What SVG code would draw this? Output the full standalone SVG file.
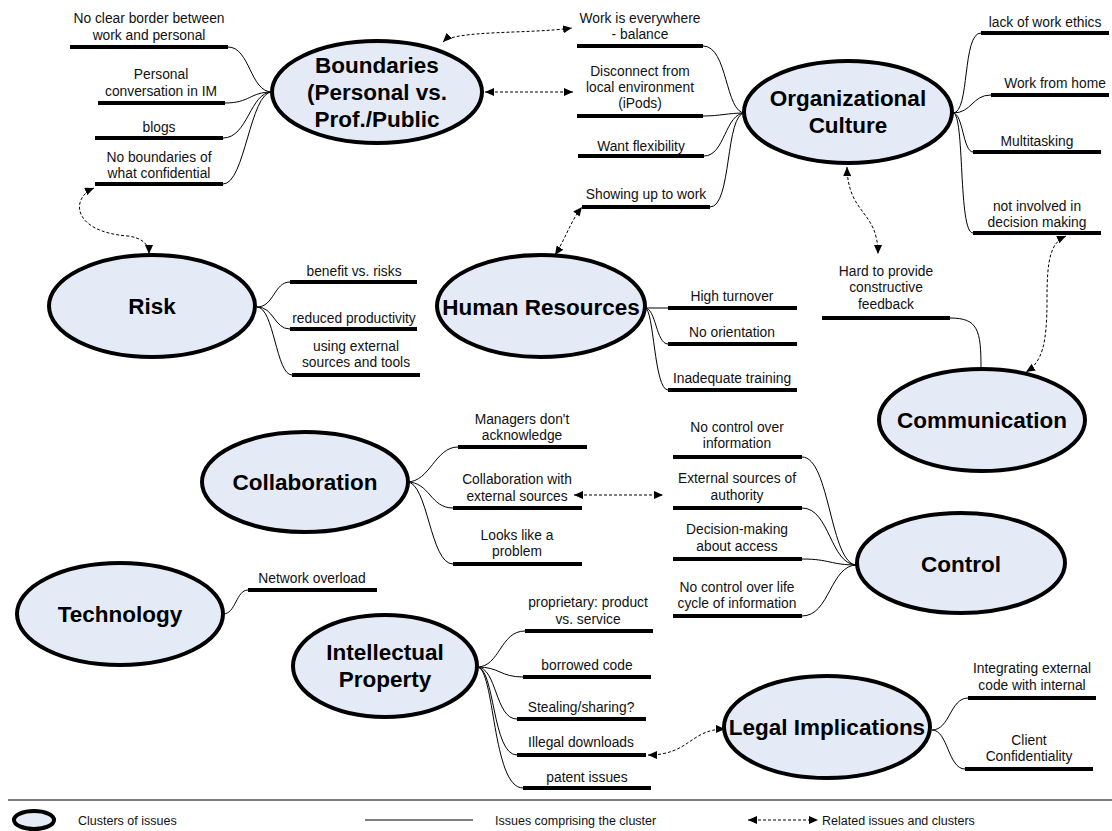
<svg xmlns="http://www.w3.org/2000/svg" width="1112" height="831" viewBox="0 0 1112 831">
<defs>
<marker id="ah" markerUnits="userSpaceOnUse" markerWidth="10" markerHeight="8" refX="9" refY="4" orient="auto-start-reverse" viewBox="0 0 10 8">
<path d="M0 0 L9 4 L0 8 Z" fill="#000"/>
</marker>
<style>
.cl{fill:#e4ebf7;stroke:#000;stroke-width:4}
.ct{font-family:"Liberation Sans",Arial,sans-serif;font-weight:bold;font-size:22.5px;fill:#000;text-anchor:middle}
.it{font-family:"Liberation Sans",Arial,sans-serif;font-size:13.8px;fill:#111;text-anchor:middle}
.ul{stroke:#000;stroke-width:4;fill:none}
.cn{stroke:#000;stroke-width:1;fill:none}
.rel{stroke:#000;stroke-width:1;fill:none;stroke-dasharray:3 2;marker-start:url(#ah);marker-end:url(#ah)}
.lg{font-family:"Liberation Sans",Arial,sans-serif;font-size:12.5px;fill:#111}
</style>
</defs>
<rect width="1112" height="831" fill="#fff"/>

<g id="connectors">
<!-- Boundaries -->
<path class="cn" d="M228 47 C250 47 250 92 272 92"/>
<path class="cn" d="M225 103 C250 103 250 92 272 92"/>
<path class="cn" d="M223 138 C248 138 250 92 272 92"/>
<path class="cn" d="M223 184 C245 184 250 92 272 92"/>
<!-- Risk -->
<path class="cn" d="M257 307 C274 307 274 282 290 282"/>
<path class="cn" d="M257 307 C274 307 274 329 290 329"/>
<path class="cn" d="M257 307 C274 307 276 375 292 375"/>
<!-- HR -->
<path class="cn" d="M645 308 L668 308"/>
<path class="cn" d="M645 308 C656 308 656 344 668 344"/>
<path class="cn" d="M645 308 C654 308 654 390 668 390"/>
<!-- Org culture left -->
<path class="cn" d="M703 46 C728 46 725 113 745 113"/>
<path class="cn" d="M703 116 C720 116 728 113 745 113"/>
<path class="cn" d="M704 156 C725 156 725 113 745 113"/>
<path class="cn" d="M710 207 C732 207 725 113 745 113"/>
<!-- Org culture right -->
<path class="cn" d="M953 113 C970 113 962 33 981 33"/>
<path class="cn" d="M953 113 C972 113 972 95 991 95"/>
<path class="cn" d="M953 113 C963 113 963 152 973 152"/>
<path class="cn" d="M953 113 C965 113 958 233 973 233"/>
<!-- Communication -->
<path class="cn" d="M950 318 C978 318 981 330 981 368"/>
<!-- Collaboration -->
<path class="cn" d="M407 482 C430 482 435 447 458 447"/>
<path class="cn" d="M407 482 C430 482 430 508 453 508"/>
<path class="cn" d="M407 482 C428 482 430 564 453 564"/>
<!-- Control -->
<path class="cn" d="M802 457 C830 457 830 565 857 565"/>
<path class="cn" d="M802 508 C830 508 830 565 857 565"/>
<path class="cn" d="M802 559 C830 559 830 565 857 565"/>
<path class="cn" d="M802 616 C830 616 830 565 857 565"/>
<!-- Technology -->
<path class="cn" d="M223 614 C236 614 236 590 248 590"/>
<!-- IP -->
<path class="cn" d="M477 667 C500 667 500 631 525 631"/>
<path class="cn" d="M477 667 C500 667 500 677 523 677"/>
<path class="cn" d="M477 667 C497 667 495 719 517 719"/>
<path class="cn" d="M477 667 C495 667 492 755 517 755"/>
<path class="cn" d="M477 667 C495 667 492 788 523 788"/>
<!-- Legal -->
<path class="cn" d="M932 730 C950 730 950 698 968 698"/>
<path class="cn" d="M932 730 C948 730 948 769 965 769"/>
<!-- Related (dashed) -->
<path class="rel" d="M443 42 C455 30 530 34 572 28"/>
<path class="rel" d="M485 92 L573 92"/>
<path class="rel" d="M94 188 C70 198 72 232 128 236 C142 238 149 244 149 254"/>
<path class="rel" d="M555 255 C565 240 570 222 582 207"/>
<path class="rel" d="M847 167 C848 215 878 210 878 254"/>
<path class="rel" d="M1066 236 C1050 243 1047 260 1047 300 C1047 345 1042 362 1026 372"/>
<path class="rel" d="M574 495 L663 495"/>
<path class="rel" d="M648 755 C690 755 690 729 725 729"/>
</g>

<g id="boundaries">
<ellipse class="cl" cx="377" cy="92" rx="105" ry="51"/>
<text class="ct" x="377" y="73">Boundaries</text>
<text class="ct" x="377" y="100">(Personal vs.</text>
<text class="ct" x="377" y="127">Prof./Public</text>
<line class="ul" x1="70" y1="47" x2="228" y2="47"/>
<text class="it" x="149" y="23">No clear border between</text>
<text class="it" x="149" y="40">work and personal</text>
<line class="ul" x1="98" y1="103" x2="225" y2="103"/>
<text class="it" x="161" y="79">Personal</text>
<text class="it" x="161" y="96">conversation in IM</text>
<line class="ul" x1="95" y1="138" x2="223" y2="138"/>
<text class="it" x="159" y="132">blogs</text>
<line class="ul" x1="95" y1="184" x2="223" y2="184"/>
<text class="it" x="159" y="162">No boundaries of</text>
<text class="it" x="159" y="178">what confidential</text>
</g>

<g id="risk">
<ellipse class="cl" cx="152" cy="306" rx="103" ry="51"/>
<text class="ct" x="152" y="314">Risk</text>
<line class="ul" x1="290" y1="282" x2="417" y2="282"/>
<text class="it" x="354" y="276">benefit vs. risks</text>
<line class="ul" x1="290" y1="329" x2="417" y2="329"/>
<text class="it" x="354" y="323">reduced productivity</text>
<line class="ul" x1="292" y1="375" x2="420" y2="375"/>
<text class="it" x="356" y="351">using external</text>
<text class="it" x="356" y="367">sources and tools</text>
</g>

<g id="human-resources">
<ellipse class="cl" cx="541" cy="306" rx="104" ry="51"/>
<text class="ct" x="541" y="315">Human Resources</text>
<line class="ul" x1="668" y1="308" x2="797" y2="308"/>
<text class="it" x="732" y="301">High turnover</text>
<line class="ul" x1="668" y1="344" x2="797" y2="344"/>
<text class="it" x="732" y="337">No orientation</text>
<line class="ul" x1="668" y1="390" x2="797" y2="390"/>
<text class="it" x="732" y="383">Inadequate training</text>
</g>

<g id="organizational-culture">
<ellipse class="cl" cx="848" cy="112" rx="104" ry="51"/>
<text class="ct" x="848" y="106">Organizational</text>
<text class="ct" x="848" y="133">Culture</text>
<line class="ul" x1="577" y1="46" x2="703" y2="46"/>
<text class="it" x="640" y="23">Work is everywhere</text>
<text class="it" x="640" y="39">- balance</text>
<line class="ul" x1="577" y1="116" x2="703" y2="116"/>
<text class="it" x="640" y="76">Disconnect from</text>
<text class="it" x="640" y="92">local environment</text>
<text class="it" x="640" y="108">(iPods)</text>
<line class="ul" x1="578" y1="156" x2="704" y2="156"/>
<text class="it" x="641" y="151">Want flexibility</text>
<line class="ul" x1="582" y1="207" x2="710" y2="207"/>
<text class="it" x="646" y="199">Showing up to work</text>
<line class="ul" x1="981" y1="33" x2="1109" y2="33"/>
<text class="it" x="1045" y="27">lack of work ethics</text>
<line class="ul" x1="991" y1="95" x2="1109" y2="95"/>
<text class="it" x="1055" y="88">Work from home</text>
<line class="ul" x1="973" y1="152" x2="1101" y2="152"/>
<text class="it" x="1037" y="146">Multitasking</text>
<line class="ul" x1="973" y1="233" x2="1101" y2="233"/>
<text class="it" x="1037" y="211">not involved in</text>
<text class="it" x="1037" y="227">decision making</text>
</g>

<g id="communication">
<ellipse class="cl" cx="982" cy="420" rx="103" ry="51"/>
<text class="ct" x="982" y="428">Communication</text>
<line class="ul" x1="822" y1="318" x2="950" y2="318"/>
<text class="it" x="886" y="276">Hard to provide</text>
<text class="it" x="886" y="292">constructive</text>
<text class="it" x="886" y="309">feedback</text>
</g>

<g id="collaboration">
<ellipse class="cl" cx="305" cy="482" rx="103" ry="50"/>
<text class="ct" x="305" y="490">Collaboration</text>
<line class="ul" x1="458" y1="447" x2="587" y2="447"/>
<text class="it" x="522" y="424">Managers don't</text>
<text class="it" x="522" y="440">acknowledge</text>
<line class="ul" x1="453" y1="508" x2="582" y2="508"/>
<text class="it" x="517" y="484">Collaboration with</text>
<text class="it" x="517" y="501">external sources</text>
<line class="ul" x1="453" y1="564" x2="582" y2="564"/>
<text class="it" x="517" y="540">Looks like a</text>
<text class="it" x="517" y="556">problem</text>
</g>

<g id="control">
<ellipse class="cl" cx="961" cy="563" rx="104" ry="50"/>
<text class="ct" x="961" y="572">Control</text>
<line class="ul" x1="673" y1="457" x2="802" y2="457"/>
<text class="it" x="737" y="432">No control over</text>
<text class="it" x="737" y="448">information</text>
<line class="ul" x1="673" y1="508" x2="802" y2="508"/>
<text class="it" x="737" y="483">External sources of</text>
<text class="it" x="737" y="500">authority</text>
<line class="ul" x1="673" y1="559" x2="802" y2="559"/>
<text class="it" x="737" y="534">Decision-making</text>
<text class="it" x="737" y="551">about access</text>
<line class="ul" x1="673" y1="616" x2="802" y2="616"/>
<text class="it" x="737" y="592">No control over life</text>
<text class="it" x="737" y="608">cycle of information</text>
</g>

<g id="technology">
<ellipse class="cl" cx="120" cy="614" rx="103" ry="51"/>
<text class="ct" x="120" y="622">Technology</text>
<line class="ul" x1="248" y1="590" x2="377" y2="590"/>
<text class="it" x="312" y="583">Network overload</text>
</g>

<g id="intellectual-property">
<ellipse class="cl" cx="385" cy="666" rx="92" ry="51"/>
<text class="ct" x="385" y="660">Intellectual</text>
<text class="ct" x="385" y="687">Property</text>
<line class="ul" x1="525" y1="631" x2="653" y2="631"/>
<text class="it" x="588" y="607">proprietary: product</text>
<text class="it" x="588" y="624">vs. service</text>
<line class="ul" x1="523" y1="677" x2="651" y2="677"/>
<text class="it" x="587" y="670">borrowed code</text>
<line class="ul" x1="517" y1="719" x2="646" y2="719"/>
<text class="it" x="581" y="712">Stealing/sharing?</text>
<line class="ul" x1="517" y1="755" x2="646" y2="755"/>
<text class="it" x="581" y="747">Illegal downloads</text>
<line class="ul" x1="523" y1="788" x2="651" y2="788"/>
<text class="it" x="587" y="782">patent issues</text>
</g>

<g id="legal-implications">
<ellipse class="cl" cx="827" cy="727" rx="103" ry="51"/>
<text class="ct" x="827" y="735">Legal Implications</text>
<line class="ul" x1="968" y1="698" x2="1096" y2="698"/>
<text class="it" x="1032" y="673">Integrating external</text>
<text class="it" x="1032" y="690">code with internal</text>
<line class="ul" x1="965" y1="769" x2="1093" y2="769"/>
<text class="it" x="1029" y="745">Client</text>
<text class="it" x="1029" y="761">Confidentiality</text>
</g>

<g id="legend">
<line x1="8" y1="800" x2="1112" y2="800" stroke="#7f7f7f" stroke-width="2"/>
<ellipse class="cl" cx="34" cy="820" rx="20" ry="9"/>
<text class="lg" x="78" y="825">Clusters of issues</text>
<line class="cn" x1="365" y1="820" x2="473" y2="820"/>
<text class="lg" x="495" y="825">Issues comprising the cluster</text>
<path class="rel" d="M748 820 L818 820"/>
<text class="lg" x="822" y="825">Related issues and clusters</text>
</g>
</svg>
